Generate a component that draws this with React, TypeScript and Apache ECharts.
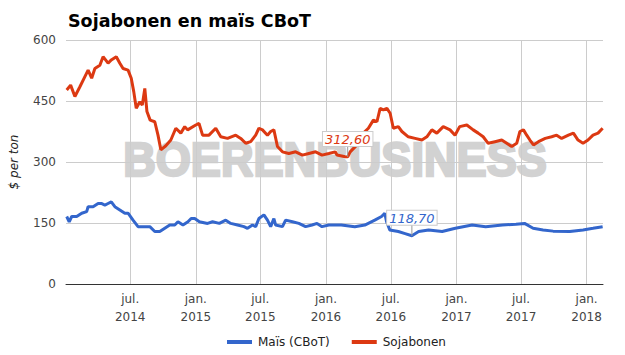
import React, { useEffect, useRef } from 'react';
import * as echarts from 'echarts';

const titleText = 'Sojabonen en maïs CBoT';
const yAxisName = '$ per ton';
const seriesNames = ['Maïs (CBoT)', 'Sojabonen'];
const seriesColors = ['#3366cc', '#dc3912'];
const watermarkText = 'BOERENBUSINESS';

const xTickDates = ['2014-07-01', '2015-01-01', '2015-07-01', '2016-01-01', '2016-07-01', '2017-01-01', '2017-07-01', '2018-01-01'];
const monthNames = ['jan.', 'feb.', 'mrt.', 'apr.', 'mei', 'jun.', 'jul.', 'aug.', 'sep.', 'okt.', 'nov.', 'dec.'];
const xRange = ['2014-01-02', '2018-02-16'];
const yTicks = [0, 150, 300, 450, 600];

const soja: [string, number][] = [
  ['2014-01-04', 477], ['2014-01-15', 489], ['2014-01-27', 461], ['2014-02-10', 485], ['2014-02-24', 510],
  ['2014-03-05', 526], ['2014-03-15', 506], ['2014-03-24', 530], ['2014-04-07', 538], ['2014-04-16', 559],
  ['2014-04-30', 543], ['2014-05-09', 551], ['2014-05-23', 559], ['2014-06-02', 543], ['2014-06-11', 530],
  ['2014-06-25', 526], ['2014-07-04', 506], ['2014-07-11', 473], ['2014-07-18', 432], ['2014-07-28', 448],
  ['2014-08-04', 440], ['2014-08-11', 481], ['2014-08-17', 424], ['2014-08-26', 403], ['2014-09-08', 399],
  ['2014-09-17', 366], ['2014-09-25', 330], ['2014-10-09', 340], ['2014-10-23', 354], ['2014-11-06', 383],
  ['2014-11-20', 371], ['2014-12-01', 387], ['2014-12-09', 379], ['2015-01-01', 391], ['2015-01-10', 395],
  ['2015-01-20', 366], ['2015-02-07', 366], ['2015-02-26', 383], ['2015-03-12', 362], ['2015-03-31', 358],
  ['2015-04-23', 366], ['2015-05-07', 358], ['2015-05-21', 346], ['2015-06-04', 350], ['2015-06-18', 366],
  ['2015-06-27', 383], ['2015-07-07', 379], ['2015-07-21', 366], ['2015-07-30', 375], ['2015-08-08', 379],
  ['2015-08-18', 338], ['2015-09-01', 325], ['2015-09-19', 321], ['2015-10-08', 325], ['2015-10-27', 317],
  ['2015-11-14', 321], ['2015-12-03', 325], ['2015-12-21', 317], ['2016-01-09', 321], ['2016-01-27', 325],
  ['2016-02-01', 317], ['2016-02-24', 313], ['2016-03-02', 312.6], ['2016-03-09', 325], ['2016-03-28', 342],
  ['2016-04-15', 371], ['2016-04-29', 383], ['2016-05-13', 403], ['2016-05-23', 399], ['2016-06-01', 432],
  ['2016-06-10', 428], ['2016-06-20', 432], ['2016-06-29', 420], ['2016-07-08', 383], ['2016-07-22', 387],
  ['2016-08-01', 375], ['2016-08-19', 362], ['2016-09-07', 358], ['2016-09-26', 354], ['2016-10-10', 362],
  ['2016-10-24', 379], ['2016-11-07', 371], ['2016-11-25', 387], ['2016-12-14', 379], ['2016-12-28', 366],
  ['2017-01-10', 387], ['2017-01-30', 391], ['2017-02-17', 379], ['2017-03-03', 371], ['2017-03-17', 362],
  ['2017-03-31', 346], ['2017-04-19', 350], ['2017-05-08', 354], ['2017-05-22', 346], ['2017-06-05', 338],
  ['2017-06-19', 346], ['2017-06-28', 375], ['2017-07-08', 379], ['2017-07-17', 366], ['2017-07-26', 354],
  ['2017-08-05', 342], ['2017-08-19', 350], ['2017-09-07', 358], ['2017-09-25', 362], ['2017-10-09', 366],
  ['2017-10-23', 358], ['2017-11-11', 366], ['2017-11-25', 371], ['2017-12-08', 354], ['2017-12-22', 346],
  ['2018-01-05', 354], ['2018-01-19', 366], ['2018-02-02', 371], ['2018-02-15', 383],
];

const mais: [string, number][] = [
  ['2014-01-04', 166], ['2014-01-11', 153], ['2014-01-18', 166], ['2014-02-01', 166], ['2014-02-15', 174],
  ['2014-03-01', 178], ['2014-03-05', 190], ['2014-03-19', 190], ['2014-04-02', 198], ['2014-04-11', 198],
  ['2014-04-21', 194], ['2014-04-30', 198], ['2014-05-09', 202], ['2014-05-19', 190], ['2014-06-02', 182],
  ['2014-06-16', 174], ['2014-06-25', 174], ['2014-07-09', 157], ['2014-07-23', 141], ['2014-08-11', 141],
  ['2014-08-25', 141], ['2014-09-08', 129], ['2014-09-22', 129], ['2014-10-06', 137], ['2014-10-20', 145],
  ['2014-11-03', 145], ['2014-11-12', 153], ['2014-11-26', 145], ['2014-12-10', 153], ['2014-12-19', 161],
  ['2014-12-29', 161], ['2015-01-11', 153], ['2015-02-03', 149], ['2015-02-17', 153], ['2015-03-08', 149],
  ['2015-03-26', 157], ['2015-04-09', 149], ['2015-04-28', 145], ['2015-05-16', 141], ['2015-05-26', 137],
  ['2015-06-09', 145], ['2015-06-18', 141], ['2015-06-27', 161], ['2015-07-11', 170], ['2015-07-21', 157],
  ['2015-07-30', 141], ['2015-08-08', 161], ['2015-08-13', 145], ['2015-09-01', 141], ['2015-09-10', 157],
  ['2015-09-29', 153], ['2015-10-17', 149], ['2015-11-05', 141], ['2015-11-23', 145], ['2015-12-07', 149],
  ['2015-12-21', 141], ['2016-01-09', 145], ['2016-01-23', 145], ['2016-02-13', 145], ['2016-03-22', 141],
  ['2016-04-19', 145], ['2016-05-17', 157], ['2016-06-05', 166], ['2016-06-14', 174], ['2016-06-19', 153],
  ['2016-06-28', 133], ['2016-07-22', 129], ['2016-08-10', 124], ['2016-08-29', 118.7], ['2016-09-17', 129],
  ['2016-10-15', 133], ['2016-11-22', 129], ['2016-12-29', 137], ['2017-02-14', 145], ['2017-03-24', 141],
  ['2017-05-10', 145], ['2017-06-17', 147], ['2017-07-11', 149], ['2017-08-04', 137], ['2017-09-01', 133],
  ['2017-09-29', 130], ['2017-11-15', 129], ['2017-12-22', 133], ['2018-01-19', 137], ['2018-02-15', 141],
];

const sojaNote: [string, number] = ['2016-03-02', 312.6];
const maisNote: [string, number] = ['2016-08-29', 118.7];

const FONT = 'DejaVu Sans';

function toTs(s: string): number {
  const [y, m, d] = s.split('-').map(Number);
  return new Date(y, m - 1, d).getTime();
}

function fmtNum(v: number): string {
  return v.toFixed(2).replace('.', ',');
}

function noteMark(note: [string, number], color: string) {
  return {
    symbol: 'rect',
    symbolSize: [1, 11],
    symbolOffset: [0, -5.5],
    silent: true,
    data: [
      {
        coord: [toTs(note[0]), note[1]],
        itemStyle: { color: '#999' },
        label: {
          show: true,
          position: 'top',
          distance: 0,
          formatter: fmtNum(note[1]),
          color,
          fontStyle: 'italic',
          fontFamily: FONT,
          fontSize: 13,
          backgroundColor: '#fff',
          borderColor: '#ccc',
          borderWidth: 1,
          padding: [1, 2, 0, 2],
        },
      },
    ],
  };
}

export default function App() {
  const ref = useRef<HTMLDivElement>(null);
  useEffect(() => {
    if (!ref.current) return;
    const chart = echarts.init(ref.current, null, { renderer: 'svg' });
    const tickTs = xTickDates.map(toTs);
    chart.setOption({
      animation: false,
      backgroundColor: '#fff',
      textStyle: { fontFamily: FONT },
      title: {
        text: titleText,
        left: 63,
        top: 7,
        textStyle: { fontFamily: FONT, fontWeight: 'bold', fontSize: 17.5, color: '#000' },
      },
      grid: { left: 65, right: 22, top: 40, bottom: 71 },
      graphic: [
        {
          type: 'text',
          x: 335,
          y: 160,
          z: -10,
          scaleX: 0.94,
          silent: true,
          style: {
            text: watermarkText,
            fontFamily: 'Liberation Sans',
            fontWeight: 'bold',
            fontSize: 48,
            fill: '#d2d2d2',
            stroke: '#d2d2d2',
            lineWidth: 2.5,
            align: 'center',
            verticalAlign: 'middle',
          },
        },
      ],
      legend: {
        top: 331,
        left: 222,
        icon: 'rect',
        itemWidth: 25,
        itemHeight: 4,
        itemGap: 22,
        textStyle: { fontFamily: FONT, fontSize: 12, color: '#222', padding: [0, 0, 0, 1] },
        data: seriesNames,
      },
      xAxis: {
        type: 'value',
        min: toTs(xRange[0]),
        max: toTs(xRange[1]),
        axisLine: { show: true, lineStyle: { color: '#333', width: 1 } },
        axisTick: { show: false, customValues: tickTs },
        axisLabel: {
          customValues: tickTs,
          fontFamily: FONT,
          fontSize: 12,
          color: '#444',
          lineHeight: 18,
          margin: 6,
          formatter: (v: number) => {
            const d = new Date(v);
            return monthNames[d.getMonth()] + '\n' + d.getFullYear();
          },
        },
        splitLine: { show: true, lineStyle: { color: '#ccc', width: 1 } },
      },
      yAxis: {
        type: 'value',
        min: yTicks[0],
        max: yTicks[yTicks.length - 1],
        interval: yTicks[1] - yTicks[0],
        name: yAxisName,
        nameLocation: 'middle',
        nameGap: 46,
        nameTextStyle: { fontFamily: FONT, fontStyle: 'italic', fontSize: 12, color: '#222' },
        axisLine: { show: false },
        axisTick: { show: false },
        axisLabel: { fontFamily: FONT, fontSize: 12, color: '#444', margin: 10 },
        splitLine: { lineStyle: { color: '#ccc', width: 1 } },
      },
      series: [
        {
          name: seriesNames[0],
          type: 'line',
          showSymbol: false,
          color: seriesColors[0],
          lineStyle: { width: 3, color: seriesColors[0] },
          data: mais.map(([d, v]) => [toTs(d), v]),
          markPoint: noteMark(maisNote, seriesColors[0]),
          z: 3,
        },
        {
          name: seriesNames[1],
          type: 'line',
          showSymbol: false,
          color: seriesColors[1],
          lineStyle: { width: 3, color: seriesColors[1] },
          data: soja.map(([d, v]) => [toTs(d), v]),
          markPoint: noteMark(sojaNote, seriesColors[1]),
          z: 3,
        },
      ],
    });
    return () => chart.dispose();
  }, []);
  return (
    <div
      ref={ref}
      style={{ position: 'absolute', left: 0, top: 0, width: 625, height: 355 }}
    />
  );
}
